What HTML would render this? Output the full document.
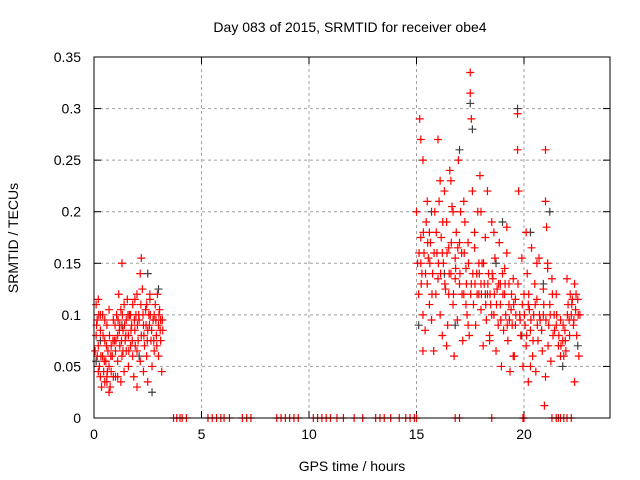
<!DOCTYPE html>
<html><head><meta charset="utf-8"><style>
body{margin:0;background:#fff}
svg{display:block;font-family:"Liberation Sans",sans-serif}
</style></head><body>
<svg id="c" width="640" height="480">
<text x="350" y="32" font-size="14" text-anchor="middle">Day 083 of 2015, SRMTID for receiver obe4</text>
<text x="352" y="471" font-size="14" text-anchor="middle">GPS time / hours</text>
<text x="18" y="238" font-size="14" text-anchor="middle" transform="rotate(-90 18 238)">SRMTID / TECUs</text>
<g id="grid"></g>
<g id="ticks"></g>
<g id="black"></g>
<g id="red"></g>
<rect x="94" y="57" width="516" height="361" fill="none" stroke="#000" stroke-width="1"/>
</svg>
<script>
const xTicks=[0,5,10,15,20];
const yTicks=[0,0.05,0.1,0.15,0.2,0.25,0.3,0.35];
const yTickLabels=["0","0.05","0.1","0.15","0.2","0.25","0.3","0.35"];
const redX=[0.05,0.1,0.1,0.15,0.2,0.2,0.25,0.3,0.3,0.35,0.4,0.4,0.45,0.5,0.5,0.55,0.6,0.6,0.65,0.7,0.7,0.75,0.8,0.8,0.85,0.9,0.95,1.0,1.0,1.05,1.1,1.1,1.15,1.2,1.2,1.25,1.3,1.3,1.35,1.4,1.4,1.45,1.5,1.5,1.55,1.6,1.6,1.65,1.7,1.75,1.8,1.8,1.85,1.9,1.95,2.0,2.0,2.05,2.1,2.15,2.15,2.2,2.2,2.25,2.3,2.35,2.4,2.45,2.5,2.5,2.55,2.6,2.65,2.7,2.75,2.8,2.85,2.9,2.95,3.0,3.0,3.05,3.1,3.15,3.2,0.15,0.5,0.9,1.7,2.3,2.0,0.3,1.25,2.8,3.1,
15.0,15.05,15.1,15.15,15.2,15.2,15.25,15.3,15.3,15.35,15.4,15.45,15.5,15.55,15.6,15.65,15.7,15.75,15.8,15.85,15.9,15.95,16.0,16.05,16.1,16.15,16.2,16.25,16.3,16.35,16.4,16.45,16.5,16.55,16.6,16.65,16.7,16.75,16.8,16.85,16.9,16.95,17.0,17.05,17.1,17.15,17.2,17.25,17.3,17.35,17.4,17.45,17.5,17.5,17.55,17.55,17.6,17.65,17.7,17.75,17.8,17.85,17.9,17.95,18.0,18.05,18.1,18.15,18.2,18.25,18.3,18.35,18.4,18.45,18.5,18.55,18.6,18.65,18.7,18.75,18.8,18.85,18.9,18.95,19.0,19.05,19.1,19.15,19.2,19.25,19.3,19.35,19.4,19.45,19.5,19.55,19.6,19.7,19.7,19.75,19.8,19.85,19.9,19.95,20.0,20.05,20.1,20.15,20.2,20.25,20.3,20.35,20.4,20.45,20.5,20.55,20.6,20.65,20.7,20.75,20.85,20.9,20.95,21.0,21.0,21.05,21.1,21.15,21.2,21.25,21.3,21.35,21.4,21.5,21.6,21.7,21.8,21.85,21.9,21.95,22.0,22.05,22.1,22.15,22.2,22.25,22.3,22.35,22.4,22.45,22.5,22.55,22.6,22.35,16.0,16.6,18.3,15.6,16.2,16.8,17.3,17.9,18.5,19.1,19.6,20.2,20.9,21.5,18.9,19.3,16.5,15.2,17.0,18.0,
0.12,0.22,0.32,0.42,0.48,0.58,0.62,0.72,0.78,0.88,0.98,1.02,1.12,1.18,1.28,1.32,1.42,1.48,1.58,1.62,1.72,1.78,1.88,1.92,2.02,2.08,2.18,2.28,2.32,2.42,2.48,2.58,2.62,2.68,2.78,2.88,2.92,3.02,3.08,3.18,0.6,1.1,0.2,1.35,2.6,2.45,1.9,0.7,
15.12,15.22,15.32,15.42,15.52,15.62,15.72,15.82,15.92,16.02,16.12,16.22,16.32,16.42,16.52,16.62,16.72,16.82,16.92,17.02,17.12,17.22,17.32,17.42,17.52,17.62,17.72,17.82,17.92,18.02,18.12,18.22,18.32,18.42,18.52,18.62,18.72,18.82,18.92,19.02,19.12,19.22,19.32,19.42,19.52,19.62,19.72,19.82,19.92,20.02,20.12,20.22,20.32,20.42,20.52,20.62,20.72,20.82,20.92,21.02,21.12,21.22,21.32,21.42,21.52,21.62,21.72,21.82,21.92,22.02,22.12,22.22,22.32,22.42,22.52,15.5,16.1,16.7,17.2,17.7,18.0,18.6,19.2,20.1,20.6,21.1,15.3,16.4,17.4,18.4,19.5,20.3,21.0,21.7,
3.7,3.85,4.0,4.1,4.3,5.3,5.5,5.7,5.9,6.05,6.3,6.9,7.1,7.3,8.5,8.7,8.9,9.1,9.3,9.5,10.2,10.4,10.6,10.8,11.0,11.3,11.6,12.1,12.5,13.1,13.3,13.5,13.8,14.2,14.5,14.7,14.9,15.0,16.8,17.0,18.5,19.95,20.0,21.3,21.5,21.6,21.7,21.85,22.0,22.2];
const redY=[0.065,0.08,0.11,0.095,0.115,0.07,0.05,0.04,0.085,0.03,0.06,0.1,0.045,0.035,0.075,0.055,0.09,0.04,0.065,0.05,0.105,0.03,0.07,0.045,0.06,0.095,0.075,0.04,0.065,0.1,0.08,0.055,0.12,0.07,0.09,0.105,0.06,0.15,0.085,0.11,0.045,0.075,0.095,0.065,0.115,0.08,0.05,0.1,0.07,0.09,0.11,0.06,0.04,0.085,0.1,0.065,0.12,0.075,0.095,0.14,0.055,0.155,0.08,0.125,0.09,0.07,0.105,0.06,0.085,0.035,0.1,0.115,0.075,0.05,0.095,0.065,0.11,0.08,0.12,0.09,0.06,0.105,0.075,0.045,0.085,0.06,0.095,0.04,0.1,0.045,0.03,0.1,0.035,0.1,0.095,
0.2,0.15,0.12,0.29,0.27,0.175,0.14,0.1,0.25,0.16,0.085,0.19,0.13,0.155,0.11,0.17,0.095,0.14,0.065,0.2,0.12,0.16,0.135,0.21,0.1,0.175,0.08,0.15,0.22,0.125,0.19,0.09,0.165,0.24,0.14,0.205,0.11,0.06,0.155,0.18,0.095,0.25,0.13,0.2,0.16,0.075,0.12,0.19,0.145,0.1,0.17,0.08,0.315,0.335,0.29,0.13,0.22,0.11,0.165,0.09,0.14,0.2,0.12,0.235,0.105,0.15,0.07,0.13,0.175,0.095,0.12,0.14,0.08,0.11,0.19,0.135,0.1,0.155,0.065,0.125,0.09,0.17,0.11,0.05,0.14,0.085,0.12,0.1,0.16,0.075,0.13,0.045,0.105,0.09,0.135,0.06,0.115,0.295,0.26,0.22,0.1,0.08,0.155,0.05,0.12,0.09,0.07,0.14,0.035,0.105,0.085,0.165,0.06,0.1,0.13,0.045,0.115,0.075,0.155,0.095,0.065,0.125,0.012,0.26,0.21,0.185,0.145,0.09,0.11,0.055,0.135,0.08,0.1,0.12,0.07,0.095,0.075,0.06,0.085,0.065,0.135,0.11,0.095,0.12,0.1,0.115,0.09,0.13,0.105,0.08,0.115,0.06,0.1,0.035,0.27,0.23,0.22,0.18,0.16,0.135,0.11,0.15,0.1,0.145,0.09,0.11,0.1,0.09,0.13,0.11,0.12,0.15,0.17,0.13,
0.09,0.1,0.06,0.08,0.055,0.07,0.045,0.08,0.06,0.075,0.09,0.075,0.095,0.085,0.075,0.1,0.09,0.08,0.1,0.065,0.085,0.075,0.095,0.07,0.09,0.1,0.11,0.1,0.08,0.09,0.075,0.09,0.1,0.085,0.075,0.095,0.07,0.1,0.085,0.095,0.035,0.04,0.045,0.065,0.12,0.11,0.115,0.025,
0.16,0.13,0.18,0.14,0.17,0.15,0.12,0.16,0.18,0.15,0.14,0.19,0.13,0.16,0.14,0.17,0.12,0.145,0.165,0.14,0.12,0.16,0.13,0.15,0.12,0.14,0.13,0.12,0.14,0.12,0.15,0.11,0.13,0.12,0.14,0.12,0.11,0.13,0.095,0.12,0.13,0.09,0.095,0.12,0.11,0.1,0.13,0.095,0.11,0.1,0.08,0.12,0.095,0.075,0.11,0.09,0.1,0.085,0.11,0.095,0.07,0.1,0.12,0.085,0.1,0.08,0.07,0.09,0.075,0.1,0.08,0.11,0.095,0.12,0.1,0.21,0.23,0.2,0.21,0.18,0.2,0.18,0.185,0.18,0.15,0.15,0.065,0.07,0.09,0.075,0.06,0.05,0.04,0.06,
0,0,0,0,0,0,0,0,0,0,0,0,0,0,0,0,0,0,0,0,0,0,0,0,0,0,0,0,0,0,0,0,0,0,0,0,0,0,0,0,0,0,0,0,0,0,0,0,0,0];
const blackX=[0.1,0.3,1.3,2.1,2.5,2.7,3.0,15.1,15.7,16.3,17.5,17.6,17.0,18.2,19.0,19.7,20.3,20.9,21.8,22.5,16.8,18.7,19.9,21.2];
const blackY=[0.055,0.075,0.09,0.06,0.14,0.025,0.125,0.09,0.2,0.14,0.305,0.28,0.26,0.12,0.19,0.3,0.18,0.13,0.05,0.07,0.09,0.15,0.08,0.2];
const L=94,R=610,T=57,B=418,XMAX=24,YMAX=0.35;
const sx=v=>L+v*(R-L)/XMAX, sy=v=>B-v*(B-T)/YMAX;
const NS="http://www.w3.org/2000/svg";
function mk(t,a){const e=document.createElementNS(NS,t);for(const k in a)e.setAttribute(k,a[k]);return e;}
const grid=document.getElementById('grid'),ticks=document.getElementById('ticks');
xTicks.forEach(v=>{
  if(v>0){const g=mk('line',{x1:sx(v),x2:sx(v),y1:T,y2:B,stroke:'#a0a0a0','stroke-dasharray':'3,3'});
  
  grid.appendChild(g);}
  [[B,B-7],[T,T+7]].forEach(p=>{const t=mk('line',{x1:sx(v),x2:sx(v),y1:p[0],y2:p[1],stroke:'#000'});
  
  ticks.appendChild(t);});
  const l=mk('text',{x:sx(v),y:B+21,'font-size':14,'text-anchor':'middle'});l.textContent=v;
  
  ticks.appendChild(l);
});
yTicks.forEach((v,i)=>{
  if(v>0&&v<YMAX){const g=mk('line',{x1:L,x2:R,y1:sy(v),y2:sy(v),stroke:'#a0a0a0','stroke-dasharray':'3,3'});
  
  grid.appendChild(g);}
  [[L,L+7],[R,R-7]].forEach(p=>{const t=mk('line',{x1:p[0],x2:p[1],y1:sy(v),y2:sy(v),stroke:'#000'});
  
  ticks.appendChild(t);});
  const l=mk('text',{x:L-13,y:sy(v)+5,'font-size':14,'text-anchor':'end'});l.textContent=yTickLabels[i];
  
  ticks.appendChild(l);
});
function plus(g,x,y,c){const px=sx(x),py=sy(y);
  const p=mk('path',{d:`M${px-4} ${py}H${px+4}M${px} ${py-4}V${py+4}`,stroke:c,'stroke-width':1.2});
  
  g.appendChild(p);}
const gb=document.getElementById('black'),gr=document.getElementById('red');
blackX.forEach((x,i)=>plus(gb,x,blackY[i],'#404040'));
redX.forEach((x,i)=>plus(gr,x,redY[i],'#ff0000'));
</script>
</body></html>
